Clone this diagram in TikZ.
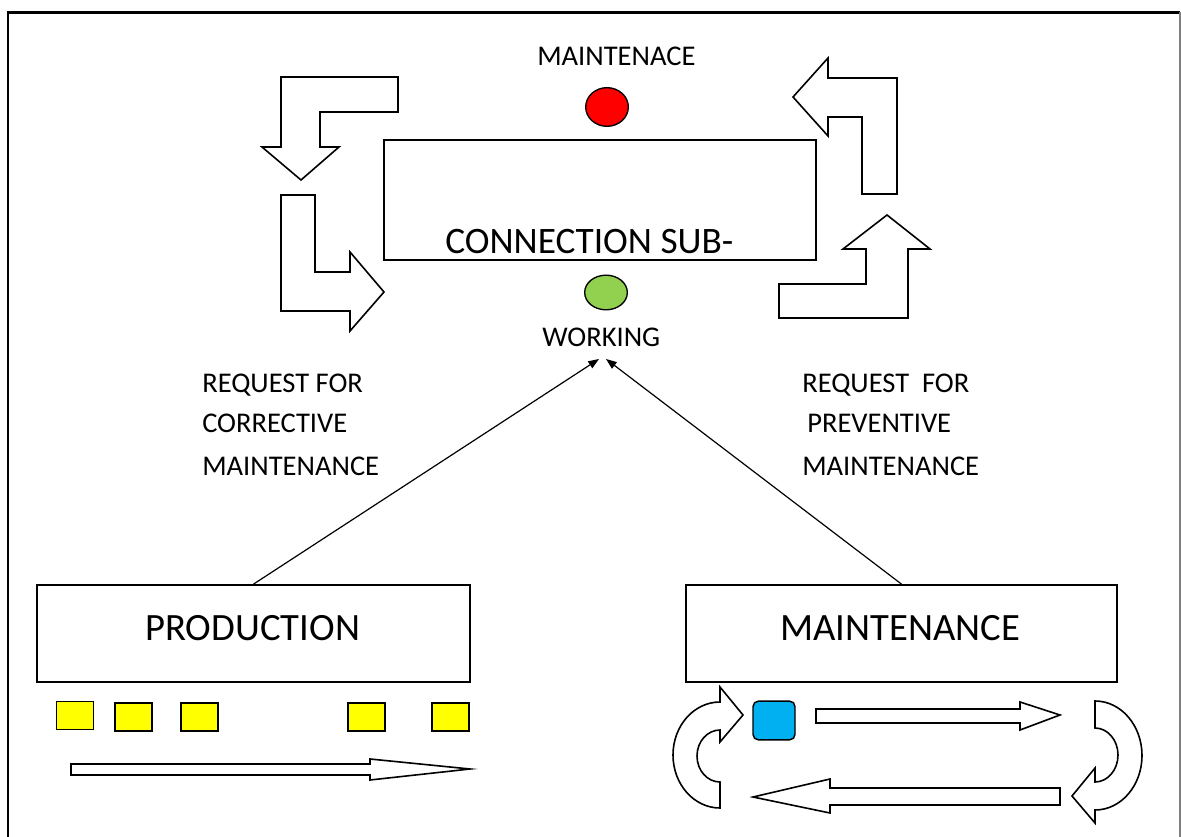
\documentclass[tikz,border=0pt]{standalone}
\usepackage{fontspec}
\setmainfont{Carlito}
\usetikzlibrary{arrows.meta,shapes.geometric}
\definecolor{lampred}{HTML}{FF0000}
\definecolor{lampgreen}{HTML}{92D050}
\definecolor{partyellow}{HTML}{FFFF00}
\definecolor{toolblue}{HTML}{00B0F0}
\begin{document}
\begin{tikzpicture}[x=0.75pt,y=-0.75pt,
  frame/.style={line width=1.6pt},
  unitbox/.style={draw=black,line width=1.3pt,inner sep=0pt},
  blockarrow/.style={draw=black,fill=white,line width=1.2pt,line join=miter},
  lamp/.style={ellipse,draw=black,line width=1pt,inner sep=0pt},
  part/.style={draw=black,fill=partyellow,line width=1.1pt,inner sep=0pt,
    minimum width=27.75pt,minimum height=21pt},
  lbl/.style={anchor=base west,inner sep=0pt,font=\fontsize{21.4pt}{26pt}\selectfont},
  biglbl/.style={anchor=base west,inner sep=0pt,font=\fontsize{29pt}{34pt}\selectfont},
  request/.style={line width=0.9pt,-{Triangle[length=8pt,width=6pt]}},
]
\useasboundingbox (0,0) rectangle (1181,837);

% page frame (open at the bottom)
\draw[frame] (8,837) -- (8,12.5) -- (1180,12.5);
\draw[gray,line width=0.8pt] (1180,12.5) -- (1180,837);

% connection sub-station with its status lamps
\node[unitbox,minimum width=324pt,minimum height=90pt] (sub) at (600,200) {};
\node[biglbl,font=\fontsize{28pt}{33pt}\selectfont] (subtext) at (445,254) {CONNECTION SUB-};
\node[lbl] (maintlamptext) at (537,66) {MAINTENACE};
\node[lamp,fill=lampred,minimum width=32pt,minimum height=29pt] (redlamp) at (607,107) {};
\node[lamp,fill=lampgreen,minimum width=32pt,minimum height=26pt] (greenlamp) at (606,292.5) {};
\node[lbl] (working) at (542,347) {WORKING};

% cycle of bent arrows round the sub-station
\draw[blockarrow] (281,77) -- (398,77) -- (398,112) -- (320,112) -- (320,147)
  -- (339,147) -- (301,180) -- (262,147) -- (281,147) -- cycle;
\draw[blockarrow] (281,195) -- (315,195) -- (315,272) -- (350,272) -- (350,252)
  -- (384,292) -- (350,331) -- (350,311) -- (281,311) -- cycle;
\draw[blockarrow] (887,215) -- (930,249) -- (908,249) -- (908,318) -- (779,318)
  -- (779,284) -- (866,284) -- (866,249) -- (843,249) -- cycle;
\draw[blockarrow] (828,58) -- (828,78) -- (897,78) -- (897,194) -- (862,194)
  -- (862,117) -- (828,117) -- (828,136) -- (793,97) -- cycle;

% production unit
\node[unitbox,minimum width=324.75pt,minimum height=72.75pt] (prod) at (253.5,633.5) {};
\node[biglbl] (prodtext) at (145,640) {PRODUCTION};
\node[part] (p1) at (75,715.5) {};
\node[part] (p2) at (133.5,717) {};
\node[part] (p3) at (199.5,717) {};
\node[part] (p4) at (366.5,717) {};
\node[part] (p5) at (450.5,717) {};
\draw[blockarrow] (71,764) -- (370,764) -- (370,759) -- (470,769) -- (370,780)
  -- (370,775) -- (71,775) -- cycle;

% maintenance unit
\node[unitbox,minimum width=323.25pt,minimum height=72.75pt] (maint) at (901.5,633.5) {};
\node[biglbl] (mainttext) at (780,640) {MAINTENANCE};
\node[draw=black,fill=toolblue,line width=1.1pt,rounded corners=4pt,inner sep=0pt,
  minimum width=31.5pt,minimum height=29pt] (tool) at (774,720.5) {};
\draw[blockarrow] (816,709) -- (1020,709) -- (1020,702) -- (1060,715) -- (1020,730)
  -- (1020,723) -- (816,723) -- cycle;
\draw[blockarrow] (1060,788) -- (830,788) -- (830,779) -- (753,797) -- (830,813)
  -- (830,805) -- (1060,805) -- cycle;
% curved return arrows
\draw[blockarrow] (720,808) .. controls (694,808) and (673,784.3) .. (673,755)
  .. controls (673,725.7) and (694,702) .. (720,702) -- (720,687) -- (743,715)
  -- (720,742) -- (720,730) .. controls (707.3,730) and (697,741.6) .. (697,756)
  .. controls (697,770.4) and (707.3,782) .. (720,782) -- cycle;
\draw[blockarrow] (1095,701) .. controls (1121,701) and (1142,725.4) .. (1142,755.5)
  .. controls (1142,785.6) and (1121,810) .. (1095,810) -- (1095,823) -- (1072,796)
  -- (1095,768) -- (1095,782) .. controls (1107.7,782) and (1118,769.9) .. (1118,755)
  .. controls (1118,740.1) and (1107.7,728) .. (1095,728) -- cycle;

% requests
\coordinate (reqc) at (599,359);
\coordinate (reqp) at (606,359);
\draw[request] (prod.north) -- (reqc);
\draw[request] (maint.north) -- (reqp);
\node[lbl] (rc1) at (202,393) {REQUEST FOR};
\node[lbl] (rc2) at (202,433) {CORRECTIVE};
\node[lbl] (rc3) at (202,475) {MAINTENANCE};
\node[lbl] (rp1) at (802,393) {REQUEST\ \ FOR};
\node[lbl] (rp2) at (807,433) {PREVENTIVE};
\node[lbl] (rp3) at (802,475) {MAINTENANCE};
\end{tikzpicture}
\end{document}
